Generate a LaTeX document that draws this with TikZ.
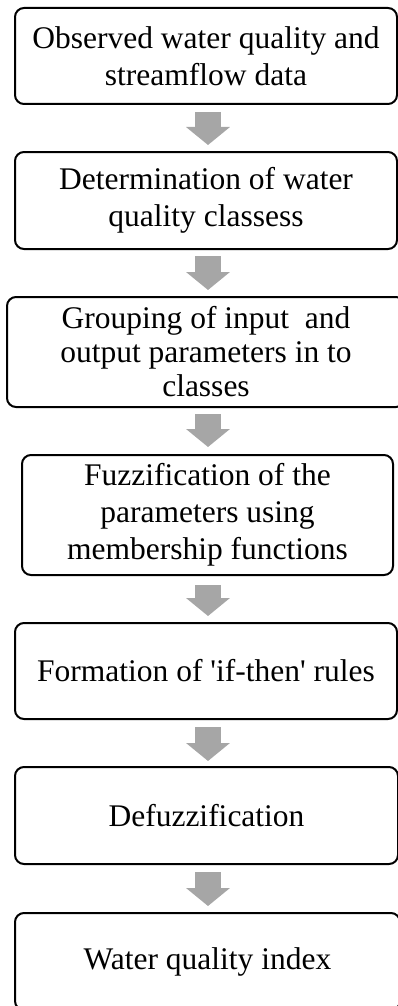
\documentclass[tikz,border=0pt]{standalone}
\usepackage{fontspec}
\setmainfont{Liberation Serif}
\usetikzlibrary{arrows.meta}
\definecolor{mgray}{rgb}{0.65, 0.65, 0.65}
\tikzset{stage/.style = {draw, line width=2pt, rounded corners=9pt, inner sep=0,
                         align=center, font=\fontsize{31.5}{37}\selectfont}}
\tikzset{flow/.style = {draw=mgray, line width=26pt,
                        -{Triangle[length=18pt, width=43pt]}}}

\begin{document}
\begin{tikzpicture}[x=1pt, y=-1pt]
    \useasboundingbox (0, 0) rectangle (398, 1006);
    \clip (0, 0) rectangle (398, 1006);

    \coordinate (axis) at (208, 0);

    \node [stage, minimum width=382, minimum height=96] (b1) at (206, 56)
      {Observed water quality and\\ streamflow data};
    \node [stage, minimum width=382, minimum height=97] (b2) at (206, 200.5)
      {Determination of water\\ quality classess};
    \node [stage, minimum width=398, minimum height=110,
           font=\fontsize{31.5}{34}\selectfont] (b3) at (206, 352)
      {Grouping of input\ \ and\\ output parameters in to\\ classes};
    \node [stage, minimum width=371, minimum height=120] (b4) at (207.5, 515)
      {Fuzzification of the\\ parameters using\\ membership functions};
    \node [stage, minimum width=382, minimum height=96] (b5) at (206, 671)
      {Formation of \textquotesingle if-then\textquotesingle{} rules};
    \node [stage, minimum width=383, minimum height=97] (b6) at (206.5, 815.5)
      {Defuzzification};
    \node [stage, minimum width=385, minimum height=97] (b7) at (207.5, 961.5)
      {Water quality index};

    \draw [flow] ([yshift=-7pt]b1.south -| axis) -- ([yshift=6pt]b2.north -| axis);
    \draw [flow] ([yshift=-6pt]b2.south -| axis) -- ([yshift=6pt]b3.north -| axis);
    \draw [flow] ([yshift=-6pt]b3.south -| axis) -- ([yshift=7pt]b4.north -| axis);
    \draw [flow] ([yshift=-9pt]b4.south -| axis) -- ([yshift=6pt]b5.north -| axis);
    \draw [flow] ([yshift=-7pt]b5.south -| axis) -- ([yshift=5pt]b6.north -| axis);
    \draw [flow] ([yshift=-7pt]b6.south -| axis) -- ([yshift=6pt]b7.north -| axis);
  \end{tikzpicture}
\end{document}
